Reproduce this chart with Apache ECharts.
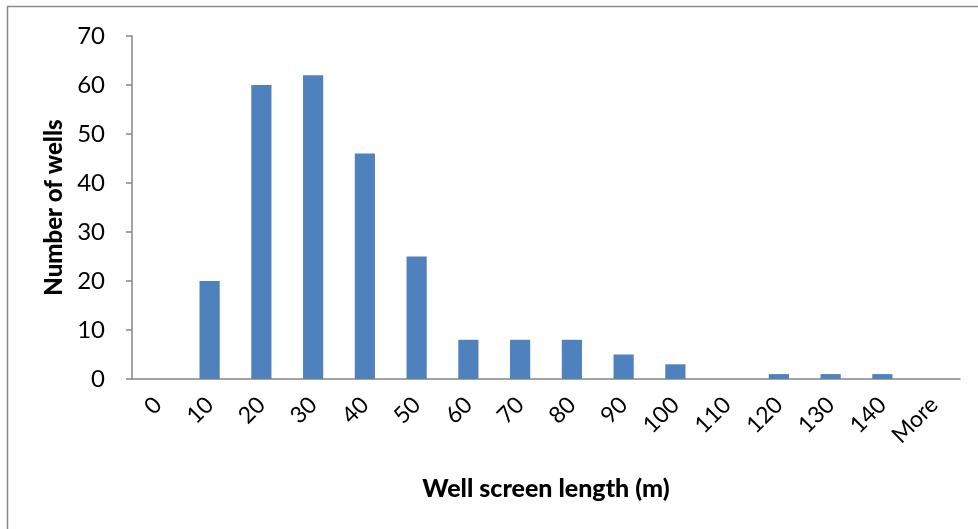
<!DOCTYPE html>
<html>
<head>
<meta charset="utf-8">
<script src="https://cdn.jsdelivr.net/npm/echarts@6/dist/echarts.min.js"></script>
<style>html,body{margin:0;padding:0;background:#fff}#c{width:978px;height:529px}</style>
</head>
<body>
<div id="c"></div>
<script>
const categories = ['0','10','20','30','40','50','60','70','80','90','100','110','120','130','140','More'];
const wellCounts = [0,20,60,62,46,25,8,8,8,5,3,0,1,1,1,0];
const yTitle = 'Number of wells';
const xTitle = 'Well screen length (m)';

const chart = echarts.init(document.getElementById('c'), null, {renderer:'canvas'});
const font = 'Lato, "Open Sans", sans-serif';
chart.setOption({
  animation:false,
  backgroundColor:'#fff',
  graphic:[{type:'rect', shape:{x:7.5,y:6.5,width:1000,height:600}, style:{fill:'none',stroke:'#8a8a8a',lineWidth:1.5}, silent:true}],
  grid:{left:132, right:18, top:36, bottom:150},
  xAxis:{
    type:'category', data:categories,
    name:xTitle, nameLocation:'middle', nameGap:97,
    nameTextStyle:{fontFamily:font,fontWeight:900,fontSize:25,color:'#000'},
    axisLine:{lineStyle:{color:'#868686',width:1.5}},
    axisTick:{alignWithLabel:false, length:6, lineStyle:{color:'#868686',width:1.5}},
    axisLabel:{rotate:45, margin:22, fontFamily:font, fontSize:23, color:'#000', interval:0}
  },
  yAxis:{
    type:'value', min:0, max:70, interval:10,
    name:yTitle, nameLocation:'middle', nameGap:55, nameRotate:90,
    nameTextStyle:{fontFamily:font,fontWeight:900,fontSize:24,color:'#000'},
    axisLine:{show:true,lineStyle:{color:'#868686',width:1.5}},
    axisTick:{show:true,length:6,lineStyle:{color:'#868686',width:1.5}},
    splitLine:{show:false},
    axisLabel:{margin:27, fontFamily:font, fontSize:24, color:'#000'}
  },
  series:[{type:'bar', data:wellCounts, barWidth:'39%', itemStyle:{color:'#4F81BD'}}]
});
</script>
</body>
</html>
